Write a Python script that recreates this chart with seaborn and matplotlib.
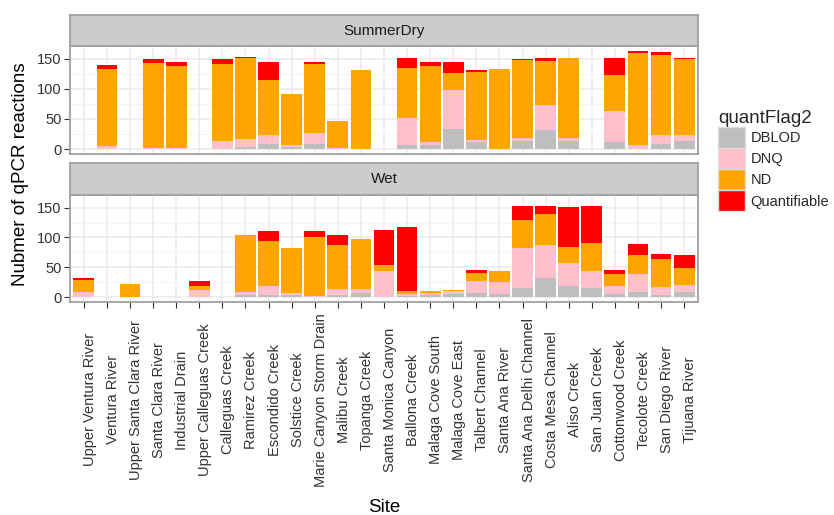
import pandas as pd
import matplotlib
matplotlib.use('Agg')
import matplotlib.pyplot as plt
import matplotlib.transforms as mtransforms
from matplotlib.patches import Patch
import seaborn as sns

sites = ['Upper Ventura River', 'Ventura River', 'Upper Santa Clara River', 'Santa Clara River',
         'Industrial Drain', 'Upper Calleguas Creek', 'Calleguas Creek', 'Ramirez Creek',
         'Escondido Creek', 'Solstice Creek', 'Marie Canyon Storm Drain', 'Malibu Creek',
         'Topanga Creek', 'Santa Monica Canyon', 'Ballona Creek', 'Malaga Cove South',
         'Malaga Cove East', 'Talbert Channel', 'Santa Ana River', 'Santa Ana Delhi Channel',
         'Costa Mesa Channel', 'Aliso Creek', 'San Juan Creek', 'Cottonwood Creek',
         'Tecolote Creek', 'San Diego River', 'Tijuana River']
flags = ['DBLOD', 'DNQ', 'ND', 'Quantifiable']
flag_colors = ['#BEBEBE', '#FFC0CB', '#FFA500', '#FF0000']

# counts per site, SummerDry
dry_dblod = [0, 0, 0, 0, 0, 0, 0, 4, 9, 3, 9, 0, 0, 0, 6, 7, 33, 11, 0, 13, 31, 13, 0, 11, 0, 9, 13]
dry_dnq = [0, 5, 0, 2, 2, 0, 13, 12, 15, 4, 17, 2, 0, 0, 46, 4, 65, 4, 0, 6, 43, 6, 0, 53, 7, 15, 11]
dry_nd = [0, 128, 0, 141, 136, 0, 128, 135, 91, 85, 115, 44, 131, 0, 83, 127, 28, 113, 133, 129, 73, 132, 0, 59, 152, 133, 125]
dry_quant = [0, 6, 0, 6, 6, 0, 8, 2, 30, 0, 4, 0, 0, 0, 16, 6, 18, 4, 0, 2, 4, 0, 0, 28, 4, 4, 2]

# counts per site, Wet
wet_dblod = [0, 0, 0, 0, 0, 0, 0, 4, 4, 4, 0, 3, 7, 1, 2, 4, 5, 7, 6, 16, 32, 18, 16, 6, 8, 4, 8]
wet_dnq = [8, 0, 1, 0, 0, 12, 0, 4, 14, 3, 2, 11, 7, 43, 4, 3, 5, 20, 20, 67, 55, 39, 28, 12, 30, 13, 12]
wet_nd = [20, 0, 21, 0, 0, 7, 0, 96, 76, 76, 98, 74, 84, 10, 4, 3, 2, 14, 18, 47, 53, 27, 47, 20, 33, 47, 29]
wet_quant = [4, 0, 0, 0, 0, 8, 0, 0, 16, 0, 10, 16, 0, 58, 108, 0, 0, 4, 0, 22, 12, 67, 61, 7, 18, 8, 22]

seasons = {'SummerDry': [dry_dblod, dry_dnq, dry_nd, dry_quant],
           'Wet': [wet_dblod, wet_dnq, wet_nd, wet_quant]}

rows = []
for season, counts in seasons.items():
    for flag, vals in zip(flags, counts):
        for site, v in zip(sites, vals):
            rows.append({'season': season, 'Site': site, 'quantFlag2': flag, 'n': v})
df = pd.DataFrame(rows)
# stack tops (flags appended bottom -> top)
df['top'] = df.groupby(['season', 'Site'])['n'].cumsum()
ymax = df.groupby(['season', 'Site'])['n'].sum().max()

sns.set_theme(style='white')
plt.rcParams['font.family'] = ['Liberation Sans', 'DejaVu Sans']

W, H = 834, 515
fig = plt.figure(figsize=(W / 100, H / 100), dpi=100)


def box(x0, y0, x1, y1):
    # pixel box -> figure fraction
    return [x0 / W, 1 - y1 / H, (x1 - x0) / W, (y1 - y0) / H]


edge = '#A0A0A0'
text_col = '#333333'
layout = {'SummerDry': (15, 46, 154), 'Wet': (163, 195, 302)}

for season, (s_top, p_top, p_bot) in layout.items():
    ax = fig.add_axes(box(70, p_top, 698, p_bot))
    sub_season = df[df['season'] == season]
    for flag, col in reversed(list(zip(flags, flag_colors))):
        sub = sub_season[sub_season['quantFlag2'] == flag]
        sns.barplot(data=sub, x='Site', y='top', order=sites, color=col, saturation=1,
                    width=0.9, linewidth=0, errorbar=None, ax=ax)
    ax.set_xlim(-0.6, len(sites) - 0.4)
    ax.set_ylim(-0.05 * ymax, 1.05 * ymax)
    ax.set_yticks([0, 50, 100, 150])
    ax.set_yticks([25, 75, 125], minor=True)
    ax.set_axisbelow(True)
    ax.yaxis.grid(True, which='major', color='#EBEBEB', lw=1.1)
    ax.yaxis.grid(True, which='minor', color='#F3F3F3', lw=0.6)
    ax.xaxis.grid(True, which='major', color='#EBEBEB', lw=1.1)
    for sp in ax.spines.values():
        sp.set_visible(True)
        sp.set_color(edge)
        sp.set_linewidth(1.3)
    ax.set_xlabel('')
    ax.set_ylabel('')
    ax.tick_params(axis='y', which='major', left=True, length=4, width=0.8, color=text_col,
                   pad=2, labelsize=10.5, labelcolor=text_col)
    ax.tick_params(axis='y', which='minor', left=False)
    if season == 'Wet':
        ax.tick_params(axis='x', bottom=True, length=4, width=0.8, color=text_col, pad=66.5,
                       labelsize=10.5, labelcolor=text_col)
        ax.set_xticks(range(len(sites)))
        ax.set_xticklabels(sites, rotation=90, ha='center', va='center')
        shift = mtransforms.ScaledTranslation(0.06, 0, fig.dpi_scale_trans)
        for lab in ax.get_xticklabels():
            lab.set_transform(lab.get_transform() + shift)
    else:
        ax.tick_params(axis='x', bottom=False, labelbottom=False)

    sax = fig.add_axes(box(70, s_top, 698, p_top))
    sax.set_facecolor('#CCCCCC')
    sax.set_xticks([])
    sax.set_yticks([])
    for sp in sax.spines.values():
        sp.set_visible(True)
        sp.set_color(edge)
        sp.set_linewidth(1.3)
    sax.text(0.5, 0.5, season, ha='center', va='center', fontsize=11, color='#1A1A1A',
             transform=sax.transAxes)

fig.text(20.5 / W, 1 - 174 / H, 'Nubmer of qPCR reactions', rotation=90, ha='center',
         va='center', fontsize=13.5, color='black')
fig.text(384 / W, 1 - 512 / H, 'Site', ha='center', va='baseline', fontsize=13.5, color='black')

handles = [Patch(facecolor=c, edgecolor='#DDDDDD', linewidth=1) for c in flag_colors]
fig.legend(handles, flags, title='quantFlag2', loc='upper left',
           bbox_to_anchor=(718 / W, 1 - 110 / H), frameon=False, fontsize=10.5,
           title_fontsize=13.5, handlelength=1.88, handleheight=1.85, labelspacing=0,
           handletextpad=0.35, borderpad=0, borderaxespad=0, alignment='left')

fig.savefig('out.png', dpi=100)
